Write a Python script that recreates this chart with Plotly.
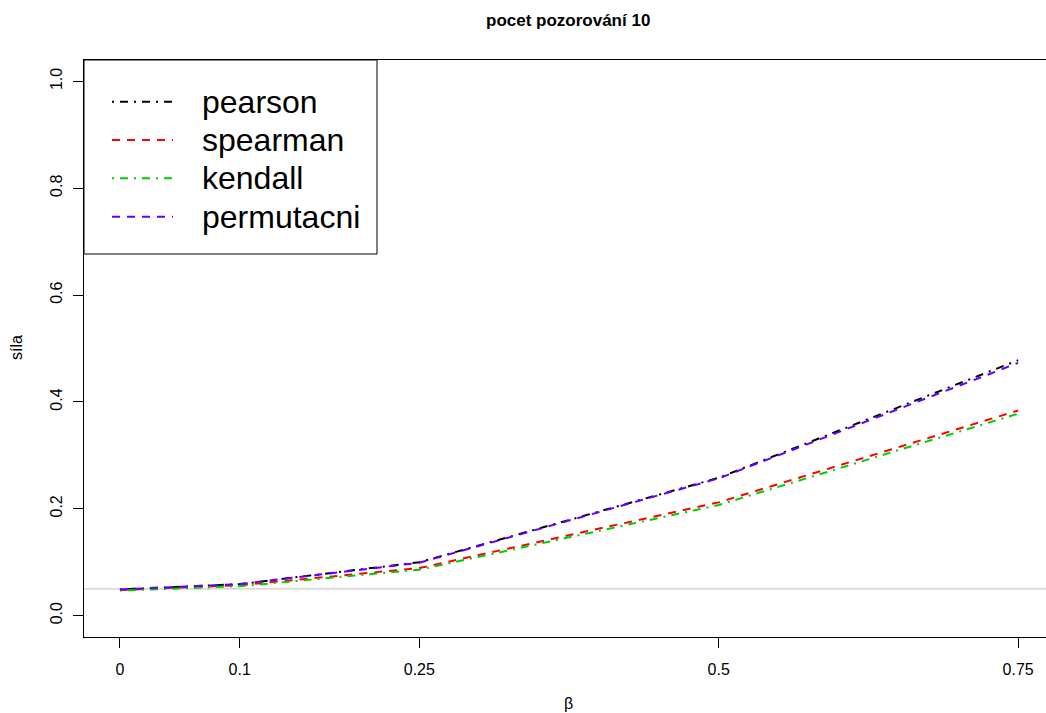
import plotly.graph_objects as go

# ---- data ----
beta = [0, 0.1, 0.25, 0.5, 0.75]
pearson = [0.049, 0.059, 0.100, 0.258, 0.478]
spearman = [0.048, 0.057, 0.089, 0.212, 0.384]
kendall = [0.047, 0.055, 0.086, 0.207, 0.378]
permutacni = [0.049, 0.059, 0.099, 0.257, 0.473]

series_names = ["pearson", "spearman", "kendall", "permutacni"]
series_values = [pearson, spearman, kendall, permutacni]
x_tick_vals = [0, 0.1, 0.25, 0.5, 0.75]
x_tick_text = ["0", "0.1", "0.25", "0.5", "0.75"]
y_tick_vals = [0.0, 0.2, 0.4, 0.6, 0.8, 1.0]
y_tick_text = ["0.0", "0.2", "0.4", "0.6", "0.8", "1.0"]
alpha_level = 0.05

title_text = "pocet pozorování 10"
x_title = "β"
y_title = "síla"

# ---- styles ----
colors = ["#000000", "#FF0000", "#00CD00", "#6200FF"]
dashes = ["2px,6px,8px,6px", "8px,7px", "2px,6px,8px,6px", "8px,7px"]
FONT = "Liberation Sans, Arial, sans-serif"

W, H = 1046, 713
L, T, B = 84, 60, 76
plot_w = W - L
plot_h = H - T - B


def px_x(px):
    return (px - L) / plot_w


def px_y(py):
    return (H - B - py) / plot_h


fig = go.Figure()
for name, vals, c, d in zip(series_names, series_values, colors, dashes):
    fig.add_trace(go.Scatter(
        x=beta, y=vals, mode="lines", name=name, showlegend=False,
        line=dict(color=c, width=2, dash=d),
    ))

shapes = [
    dict(type="line", xref="paper", yref="y", x0=0, x1=1, y0=alpha_level, y1=alpha_level,
         line=dict(color="#BEBEBE", width=1), layer="below"),
    # legend box
    dict(type="rect", xref="paper", yref="paper", x0=px_x(84), x1=px_x(377),
         y0=px_y(254), y1=px_y(60), line=dict(color="black", width=1), fillcolor="white"),
]
annotations = []
row_y = [101.7, 140, 178.3, 216.7]
for name, c, d, ry in zip(series_names, colors, dashes, row_y):
    shapes.append(dict(type="line", xref="paper", yref="paper",
                       x0=px_x(112), x1=px_x(173), y0=px_y(ry), y1=px_y(ry),
                       line=dict(color=c, width=2, dash=d)))
    annotations.append(dict(xref="paper", yref="paper", x=px_x(200), y=px_y(ry),
                            xanchor="left", yanchor="middle", text=name, showarrow=False,
                            font=dict(family=FONT, size=32, color="black")))

annotations.append(dict(xref="paper", yref="paper", x=px_x(568), y=px_y(703),
                        xanchor="center", yanchor="middle", text=x_title, showarrow=False,
                        font=dict(family=FONT, size=16, color="black")))
annotations.append(dict(xref="paper", yref="paper", x=px_x(16), y=px_y(348),
                        xanchor="center", yanchor="middle", text=y_title, showarrow=False,
                        textangle=-90, font=dict(family=FONT, size=16, color="black")))
annotations.append(dict(xref="paper", yref="paper", x=px_x(568), y=px_y(21),
                        xanchor="center", yanchor="middle", text="<b>" + title_text + "</b>",
                        showarrow=False, font=dict(family=FONT, size=17, color="black")))

fig.update_layout(
    width=W, height=H,
    margin=dict(l=L, r=0, t=T, b=B, pad=0),
    paper_bgcolor="white", plot_bgcolor="white",
    showlegend=False,
    shapes=shapes, annotations=annotations,
    font=dict(family=FONT, size=16, color="black"),
)
fig.update_xaxes(
    range=[-0.03, -0.03 + plot_w / 1197.6], showgrid=False, zeroline=False,
    showline=True, linecolor="black", linewidth=1, mirror=True,
    ticks="outside", ticklen=10, tickcolor="black", tickwidth=1,
    tickvals=x_tick_vals, ticktext=x_tick_text, ticklabelstandoff=8,
    tickfont=dict(family=FONT, size=16, color="black"),
)
fig.update_yaxes(
    range=[-0.04, 1.04], showgrid=False, zeroline=False,
    showline=True, linecolor="black", linewidth=1,
    ticks="outside", ticklen=10, tickcolor="black", tickwidth=1,
    tickvals=y_tick_vals, ticktext=y_tick_text, tickangle=-90, ticklabelstandoff=5,
    tickfont=dict(family=FONT, size=16, color="black"),
)

fig.write_html("out.html")
